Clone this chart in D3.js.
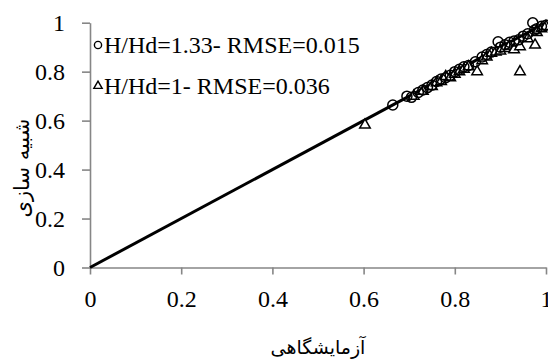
<!DOCTYPE html>
<html>
<head>
<meta charset="utf-8">
<script src="https://cdn.jsdelivr.net/npm/d3@7"></script>
<style>
  body { margin: 0; background: #fff; }
  svg text { font-family: "Liberation Serif", "DejaVu Serif", serif; fill: #000; }
  svg text.fa { font-family: "DejaVu Sans", "Liberation Serif", sans-serif; }
</style>
</head>
<body>
<div id="chart"></div>
<script>
const xTicks = [0, 0.2, 0.4, 0.6, 0.8, 1];
const yTicks = [0, 0.2, 0.4, 0.6, 0.8, 1];

// H/Hd = 1.33 (circles)
const circX = [0.664, 0.695, 0.705, 0.72, 0.73, 0.74, 0.75, 0.76, 0.77, 0.78, 0.79, 0.80, 0.81, 0.82, 0.83, 0.845, 0.86, 0.87, 0.88, 0.895, 0.90, 0.91, 0.92, 0.93, 0.94, 0.95, 0.96, 0.971, 0.975, 0.98, 0.99, 1.0];
const circY = [0.664, 0.70, 0.695, 0.715, 0.725, 0.735, 0.745, 0.76, 0.77, 0.775, 0.785, 0.80, 0.81, 0.82, 0.825, 0.84, 0.86, 0.87, 0.88, 0.922, 0.90, 0.91, 0.92, 0.925, 0.93, 0.945, 0.955, 1.0, 0.97, 0.975, 0.985, 0.99];

// H/Hd = 1 (triangles)
const triX = [0.603, 0.71, 0.73, 0.75, 0.76, 0.77, 0.78, 0.79, 0.80, 0.81, 0.82, 0.83, 0.849, 0.86, 0.87, 0.88, 0.89, 0.90, 0.91, 0.92, 0.93, 0.943, 0.943, 0.96, 0.976, 0.98, 0.99, 1.0];
const triY = [0.582, 0.70, 0.72, 0.74, 0.755, 0.76, 0.78, 0.775, 0.79, 0.80, 0.81, 0.82, 0.80, 0.845, 0.86, 0.875, 0.88, 0.885, 0.895, 0.905, 0.89, 0.80, 0.902, 0.935, 0.909, 0.96, 0.975, 0.985];

const legendLabels = ["H/Hd=1.33- RMSE=0.015", "H/Hd=1- RMSE=0.036"];
const xTitle = "آزمایشگاهی";
const yTitle = "شبیه سازی";

const width = 548;
const height = 363;
const margin = { top: 22.7, right: 2, bottom: 95.5, left: 90 };

const x = d3.scaleLinear().domain([0, 1]).range([margin.left, width - margin.right]);
const y = d3.scaleLinear().domain([0, 1]).range([height - margin.bottom, margin.top]);

const svg = d3.select("#chart").append("svg")
  .attr("width", width)
  .attr("height", height);

const axisColor = "#868686";

const xAxisG = svg.append("g")
  .attr("transform", `translate(0,${y(0)})`)
  .call(d3.axisBottom(x).tickValues(xTicks).tickFormat(d3.format("")).tickSize(7).tickSizeOuter(0).tickPadding(15));

const yAxisG = svg.append("g")
  .attr("transform", `translate(${x(0)},0)`)
  .call(d3.axisLeft(y).tickValues(yTicks).tickFormat(d3.format("")).tickSize(8).tickSizeOuter(0).tickPadding(17));

[xAxisG, yAxisG].forEach(g => {
  g.attr("font-family", null).attr("font-size", null);
  g.select(".domain").attr("stroke", axisColor).attr("stroke-width", 1.6);
  g.selectAll(".tick line").attr("stroke", axisColor).attr("stroke-width", 1.6);
  g.selectAll(".tick text").style("font-size", "24px").style("font-family", "'Liberation Serif'").attr("fill", "#000");
});
yAxisG.selectAll(".tick text").attr("dy", "0.34em");

// 1:1 line
svg.append("line")
  .attr("x1", x(0)).attr("y1", y(0))
  .attr("x2", x(1)).attr("y2", y(1))
  .attr("stroke", "#000")
  .attr("stroke-width", 3);

const circles = circX.map((d, i) => ({ x: d, y: circY[i] }));
const triangles = triX.map((d, i) => ({ x: d, y: triY[i] }));

const tri = d3.symbol().type(d3.symbolTriangle).size(48);

svg.append("g").selectAll("path")
  .data(triangles)
  .join("path")
  .attr("d", tri)
  .attr("transform", d => `translate(${x(d.x)},${y(d.y)})`)
  .attr("fill", "#fff")
  .attr("stroke", "#000")
  .attr("stroke-width", 1.5);

svg.append("g").selectAll("circle")
  .data(circles)
  .join("circle")
  .attr("cx", d => x(d.x))
  .attr("cy", d => y(d.y))
  .attr("r", 5)
  .attr("fill", "none")
  .attr("stroke", "#000")
  .attr("stroke-width", 1.5);

// legend
const legend = svg.append("g");
legend.append("circle")
  .attr("cx", 98).attr("cy", 45).attr("r", 3.6)
  .attr("fill", "none").attr("stroke", "#000").attr("stroke-width", 1.4);
legend.append("path")
  .attr("d", d3.symbol().type(d3.symbolTriangle).size(30))
  .attr("transform", "translate(98,86)")
  .attr("fill", "none").attr("stroke", "#000").attr("stroke-width", 1.4);
legend.selectAll("text")
  .data(legendLabels)
  .join("text")
  .attr("x", 104)
  .attr("y", (d, i) => 45 + i * 41)
  .attr("dy", "0.35em")
  .style("font-size", "24px")
  .text(d => d);

// axis titles
svg.append("text")
  .attr("class", "fa")
  .attr("x", (x(0) + x(1)) / 2)
  .attr("y", 354)
  .attr("text-anchor", "middle")
  .style("font-size", "19px")
  .attr("direction", "rtl")
  .text(xTitle);

svg.append("text")
  .attr("class", "fa")
  .attr("transform", `translate(29,${(y(0) + y(1)) / 2 + 23}) rotate(-90)`)
  .attr("text-anchor", "middle")
  .style("font-size", "21px")
  .attr("direction", "rtl")
  .text(yTitle);
</script>
</body>
</html>
